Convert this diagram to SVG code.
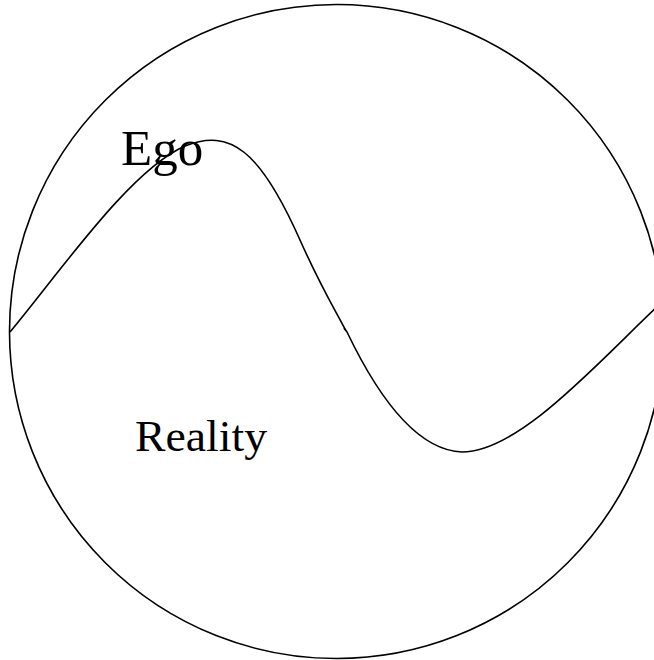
<svg xmlns="http://www.w3.org/2000/svg" width="654" height="660" viewBox="0 0 654 660">
<style>
.ln{fill:none;stroke:#000;stroke-width:1.6}
.t{font-family:"Liberation Serif","Times New Roman",serif;fill:#000}
</style>
<rect width="654" height="660" fill="#fff"/>
<g id="circle"><circle class="ln" cx="336.5" cy="331.5" r="327"/></g>
<g id="connectors">
<path class="ln" d="M10,332 C60,272 130,170 185,146 C230,128 260,150 300,240 C320,285 335,310 346,331"/>
<path class="ln" d="M344,328 L347,332 C370,380 410,450 462,452 C520,452 600,360 660,304"/>
</g>
<g id="ego"><text class="t" x="121" y="165" font-size="51">Ego</text></g>
<g id="reality"><text class="t" x="135" y="451" font-size="45" textLength="132" lengthAdjust="spacingAndGlyphs">Reality</text></g>
</svg>
